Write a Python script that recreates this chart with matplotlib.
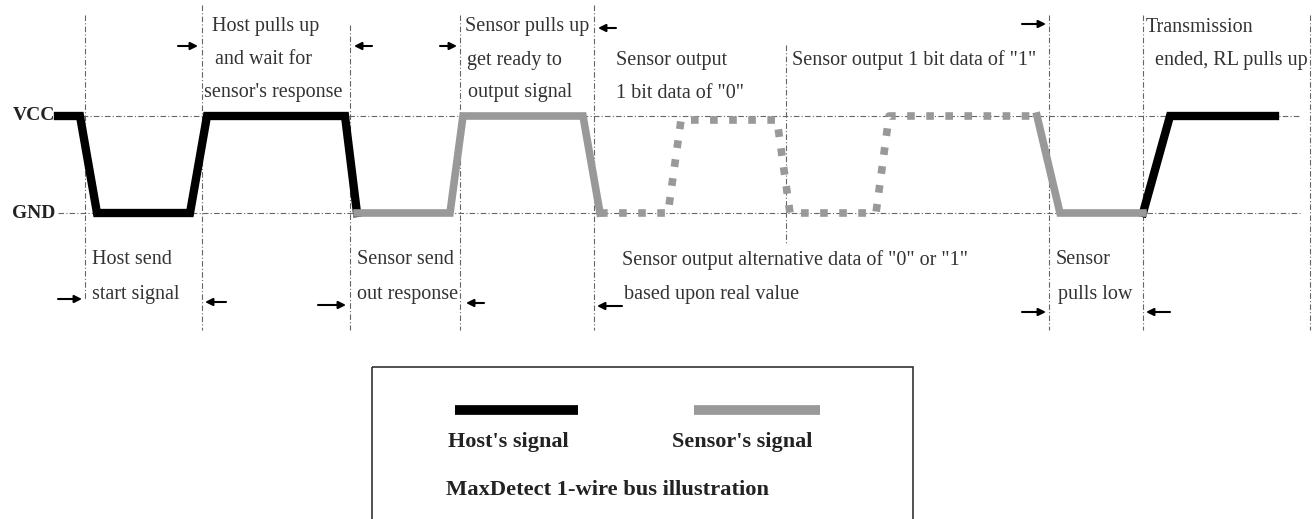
import matplotlib
matplotlib.use('Agg')
import matplotlib.pyplot as plt
from matplotlib.patches import Rectangle

plt.rcParams['font.family'] = ['Liberation Serif', 'DejaVu Serif']

# levels (in picture rows)
VCC = 116
GND = 213

# host waveform (black), two parts
host_x1 = [58, 80, 97, 190, 207, 345, 357]
host_y1 = [VCC, VCC, GND, GND, VCC, VCC, GND]
host_x2 = [1143, 1170, 1275]
host_y2 = [GND, VCC, VCC]

# sensor waveform (grey, solid)
sens_x1 = [357, 450, 463, 583, 600]
sens_y1 = [GND, GND, VCC, VCC, GND]
sens_x2 = [1037, 1060, 1143]
sens_y2 = [VCC, GND, GND]

# sensor data bits (grey, dotted)
bit_x = [600, 668, 681, 777, 790, 876, 889, 1035]
bit_y = [GND, GND, VCC + 4, VCC + 4, GND, GND, VCC, VCC]

# vertical guide lines: x, top, bottom
guides_x = [85, 202, 350, 460, 594, 786, 1049, 1143, 1310]
guides_top = [15, 5, 25, 15, 5, 45, 15, 15, 15]
guides_bot = [300, 330, 330, 330, 330, 245, 330, 330, 330]

# labels: text, x, y
labels = [
    ("Host pulls up", 212, 27), ("and wait for", 215, 60), ("sensor's response", 204, 93),
    ("Sensor pulls up", 465, 27), ("get ready to", 467, 60), ("output signal", 468, 93),
    ("Sensor output", 616, 60), ('1 bit data of "0"', 616, 93),
    ('Sensor output 1 bit data of "1"', 792, 60),
    ("Transmission", 1146, 27), ("ended, RL pulls up", 1155, 60),
    ("Host send", 92, 260), ("start signal", 92, 294),
    ("Sensor send", 357, 260), ("out response", 357, 294),
    ('Sensor output alternative data of "0" or "1"', 622, 260),
    ("based upon real value", 624, 294),
    ("Sensor", 1056, 260), ("pulls low", 1058, 294),
]

# arrows: tail x, head x, y
arrows = [
    (178, 198, 46), (372, 354, 46), (440, 457, 46), (616, 598, 28), (1022, 1046, 24),
    (58, 82, 299), (226, 205, 302), (318, 346, 305), (484, 466, 303),
    (622, 597, 306), (1022, 1046, 312), (1170, 1146, 312),
]

fig = plt.figure(figsize=(13.12, 5.19), dpi=100)
ax = fig.add_axes([0, 0, 1, 1])
ax.set_xlim(0, 1312)
ax.set_ylim(519, 0)
ax.axis('off')

guide_style = dict(color='#666666', lw=0.8, linestyle=(0, (5, 2, 1, 2)), zorder=1)
ax.plot([60, 1300], [VCC, VCC], **guide_style)
ax.plot([58, 1300], [GND, GND], **guide_style)
for gx, gt, gb in zip(guides_x, guides_top, guides_bot):
    ax.plot([gx, gx], [gt, gb], **guide_style)

ax.plot(host_x1, host_y1, color='black', lw=6, solid_joinstyle='miter', zorder=3)
ax.plot(host_x2, host_y2, color='black', lw=6, solid_joinstyle='miter', zorder=3)
ax.plot(sens_x1, sens_y1, color='#999999', lw=5.5, solid_joinstyle='miter', zorder=3)
ax.plot(sens_x2, sens_y2, color='#999999', lw=5.5, solid_joinstyle='miter', zorder=3)
ax.plot(bit_x, bit_y, color='#999999', lw=5.5, linestyle=(0, (1, 1.5)), zorder=2)

ax.text(55, VCC, "VCC", ha='right', va='center', fontsize=14, fontweight='bold', color='#222222')
ax.text(55, GND, "GND", ha='right', va='center', fontsize=14, fontweight='bold', color='#222222')

for txt, tx, ty in labels:
    ax.text(tx, ty, txt, ha='left', va='center', fontsize=14.5, color='#333333')

for x0, x1, y in arrows:
    ax.annotate('', xy=(x1, y), xytext=(x0, y),
                arrowprops=dict(arrowstyle='-|>', color='black', lw=1.5, mutation_scale=11,
                                shrinkA=0, shrinkB=0))

# legend box
ax.add_patch(Rectangle((372, 367), 541, 160, fill=False, edgecolor='#333333', lw=1.2))
ax.plot([455, 578], [410, 410], color='black', lw=7, solid_capstyle='butt')
ax.plot([694, 820], [410, 410], color='#999999', lw=7, solid_capstyle='butt')
ax.text(448, 442, "Host's signal", ha='left', va='center', fontsize=16, fontweight='bold', color='#222222')
ax.text(672, 442, "Sensor's signal", ha='left', va='center', fontsize=16, fontweight='bold', color='#222222')
ax.text(446, 490, "MaxDetect 1-wire bus illustration", ha='left', va='center', fontsize=16.2,
        fontweight='bold', color='#222222')

fig.savefig('out.png', dpi=100)
